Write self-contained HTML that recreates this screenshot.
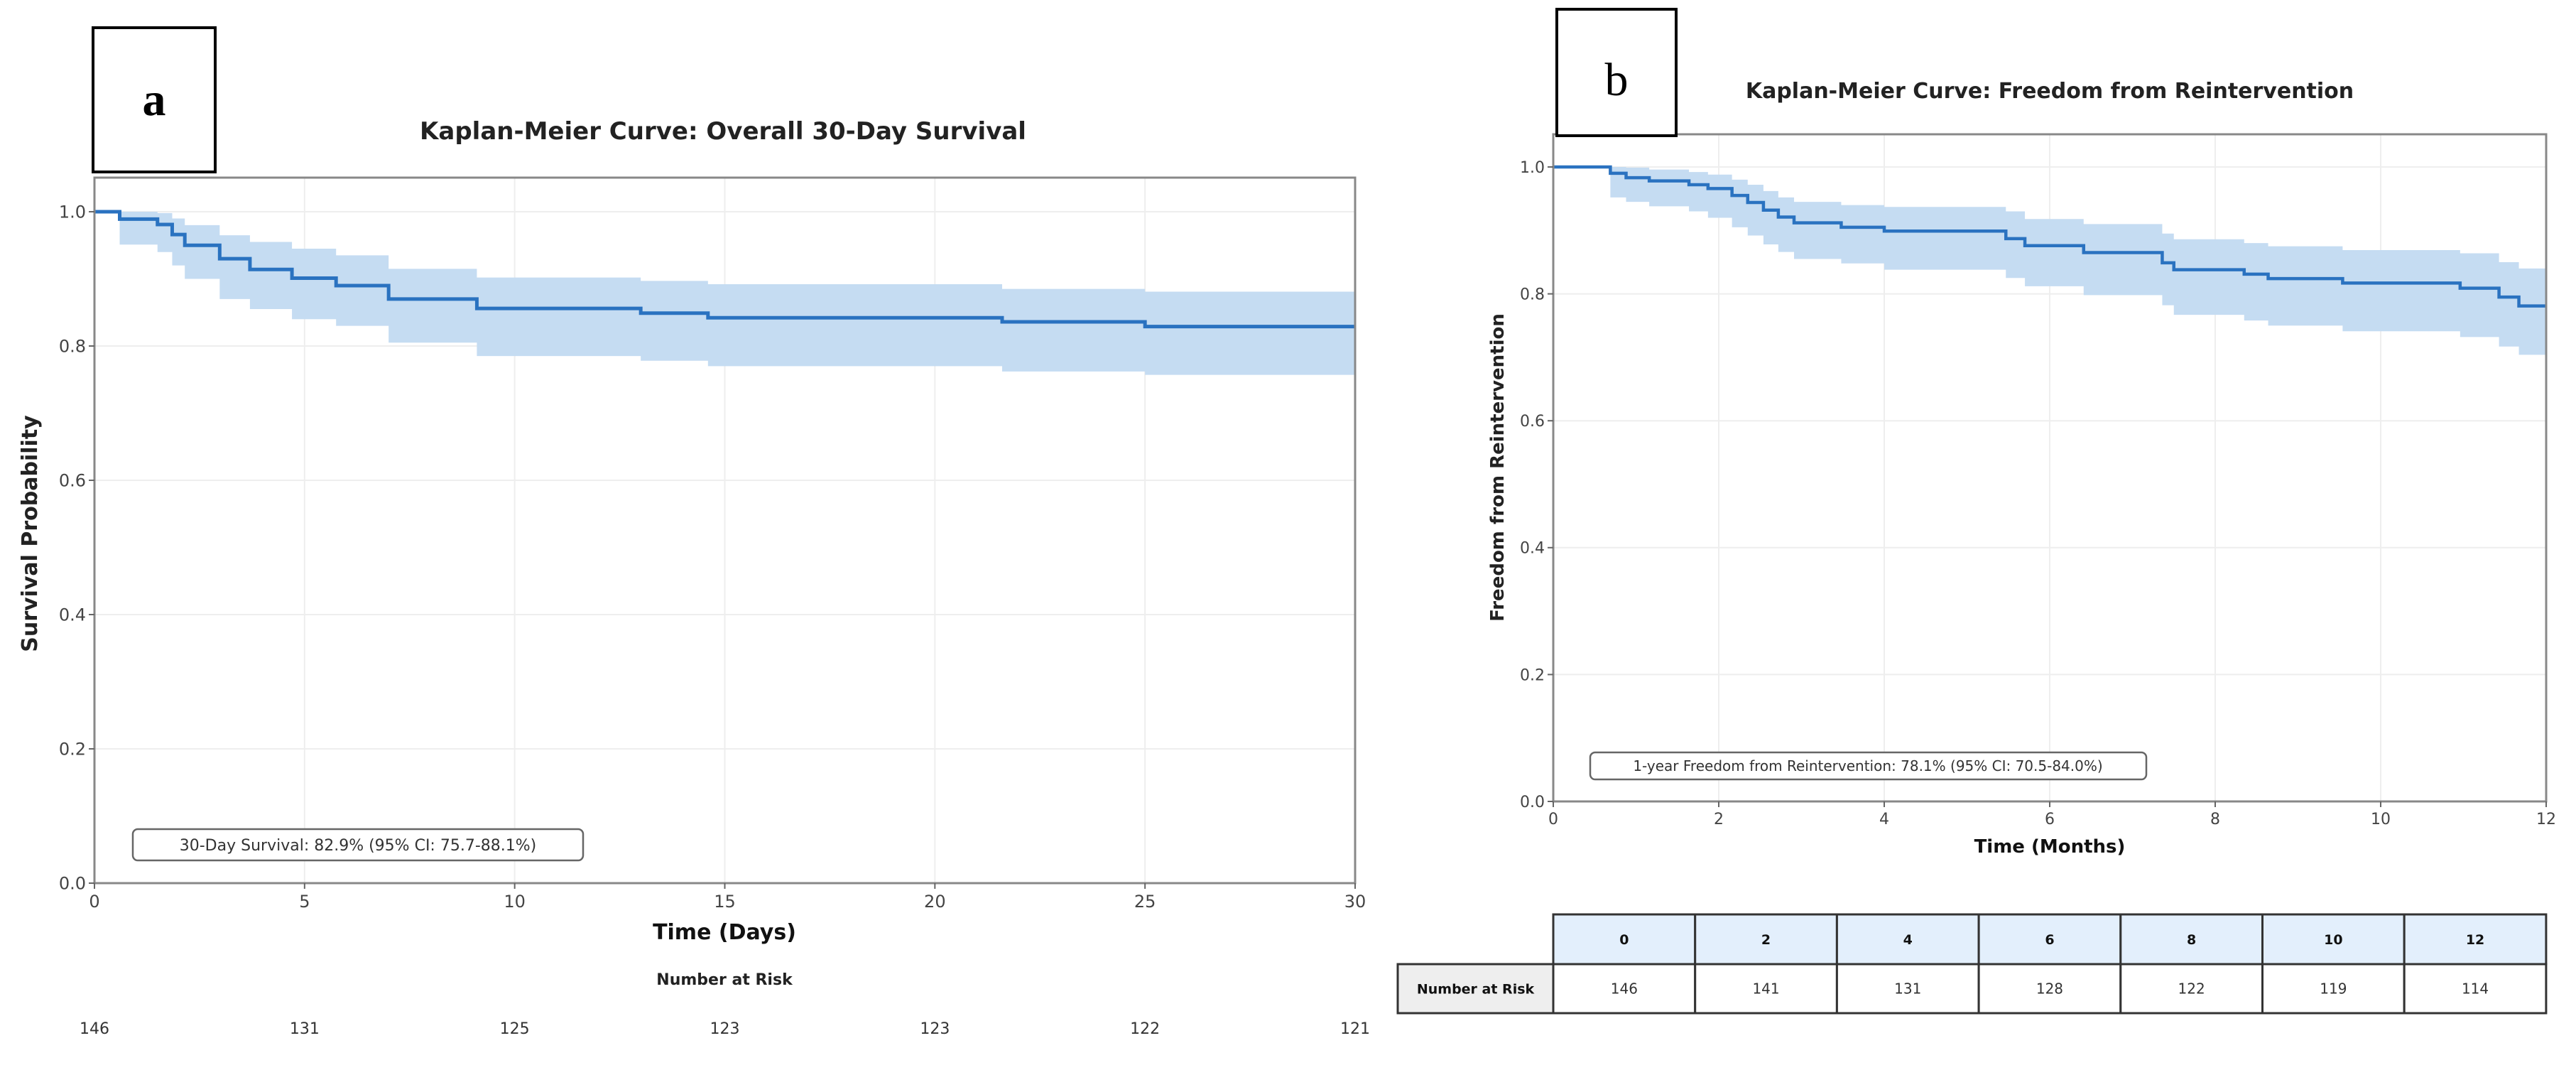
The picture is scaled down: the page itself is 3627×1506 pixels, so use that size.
<!DOCTYPE html>
<html><head><meta charset="utf-8">
<style>
html,body{margin:0;padding:0;background:#fff;}
svg{display:block;font-family:"DejaVu Sans","Liberation Sans",sans-serif;}
</style></head>
<body>
<svg id="fig" width="3627" height="1506" viewBox="0 0 3627 1506" xmlns="http://www.w3.org/2000/svg">
<rect width="3627" height="1506" fill="#fff"/>
<g>
<rect x="131" y="39" width="172" height="203" fill="#fff" stroke="#000" stroke-width="4"/>
<text x="217" y="162" text-anchor="middle" font-family="Liberation Serif,serif" font-weight="bold" font-size="66">a</text>
<text x="1018" y="196" text-anchor="middle" font-weight="bold" font-size="34" fill="#222">Kaplan-Meier Curve: Overall 30-Day Survival</text>
<g id="gridA"></g><g id="bandA"></g><g id="lineA"></g>
<rect x="133" y="250" width="1775" height="993" fill="none" stroke="#888" stroke-width="3"/>
<g id="ticksA"></g>
<text transform="translate(52,751) rotate(-90)" text-anchor="middle" font-weight="bold" font-size="30" fill="#222">Survival Probability</text>
<text x="1020" y="1322" text-anchor="middle" font-weight="bold" font-size="30" fill="#111">Time (Days)</text>
<rect x="187" y="1167" width="634" height="44" rx="7" fill="#fff" stroke="#666" stroke-width="2.5"/>
<text x="504" y="1197" text-anchor="middle" font-size="22" fill="#333">30-Day Survival: 82.9% (95% CI: 75.7-88.1%)</text>
<text x="1020" y="1386" text-anchor="middle" font-weight="bold" font-size="22" fill="#222">Number at Risk</text>
<g id="riskA"></g>
</g>
<g>
<g id="gridB"></g><g id="bandB"></g><g id="lineB"></g>
<rect x="2187" y="189" width="1398" height="939" fill="none" stroke="#888" stroke-width="3"/>
<rect x="2192" y="13" width="168" height="178" fill="#fff" stroke="#000" stroke-width="4"/>
<text x="2276" y="134" text-anchor="middle" font-family="Liberation Serif,serif" font-size="66">b</text>
<text x="2886" y="138" text-anchor="middle" font-weight="bold" font-size="30" fill="#222">Kaplan-Meier Curve: Freedom from Reintervention</text>
<g id="ticksB"></g>
<text transform="translate(2117,658) rotate(-90)" text-anchor="middle" font-weight="bold" font-size="26" fill="#222">Freedom from Reintervention</text>
<text x="2886" y="1200" text-anchor="middle" font-weight="bold" font-size="26" fill="#111">Time (Months)</text>
<rect x="2239" y="1059" width="783" height="38" rx="7" fill="#fff" stroke="#666" stroke-width="2.5"/>
<text x="2630" y="1085" text-anchor="middle" font-size="20" fill="#333">1-year Freedom from Reintervention: 78.1% (95% CI: 70.5-84.0%)</text>
<g id="tableB"></g>
</g>
</svg>
<script>
const aTimes = [0, 0.6, 1.5, 1.85, 2.15, 2.98, 3.7, 4.7, 5.75, 7.0, 9.1, 13.0, 14.6, 21.6, 25.0];
const aSurv  = [1.0, 0.989, 0.981, 0.966, 0.950, 0.930, 0.914, 0.901, 0.890, 0.870, 0.856, 0.849, 0.842, 0.836, 0.829];
const aLower = [1.0, 0.951, 0.940, 0.920, 0.900, 0.870, 0.855, 0.840, 0.830, 0.805, 0.785, 0.778, 0.770, 0.762, 0.757];
const aUpper = [1.0, 1.0, 0.998, 0.990, 0.980, 0.965, 0.955, 0.945, 0.935, 0.915, 0.902, 0.897, 0.892, 0.885, 0.881];
const aXTicks = [0, 5, 10, 15, 20, 25, 30];
const aRisk = [146, 131, 125, 123, 123, 122, 121];
const bTimes = [0, 0.69, 0.88, 1.16, 1.64, 1.87, 2.16, 2.35, 2.54, 2.72, 2.91, 3.48, 4.0, 5.47, 5.7, 6.41, 7.36, 7.5, 8.35, 8.64, 9.54, 10.96, 11.43, 11.67];
const bSurv  = [1.0, 0.99, 0.983, 0.978, 0.972, 0.966, 0.955, 0.944, 0.932, 0.921, 0.912, 0.905, 0.899, 0.887, 0.876, 0.865, 0.849, 0.838, 0.831, 0.824, 0.817, 0.809, 0.795, 0.781];
const bLower = [1.0, 0.952, 0.945, 0.938, 0.930, 0.920, 0.905, 0.892, 0.878, 0.866, 0.855, 0.848, 0.838, 0.825, 0.812, 0.798, 0.782, 0.767, 0.758, 0.750, 0.741, 0.732, 0.717, 0.704];
const bUpper = [1.0, 1.0, 0.999, 0.996, 0.992, 0.988, 0.980, 0.972, 0.962, 0.952, 0.945, 0.940, 0.937, 0.930, 0.918, 0.910, 0.895, 0.886, 0.880, 0.875, 0.869, 0.864, 0.850, 0.840];
const bXTicks = [0, 2, 4, 6, 8, 10, 12];
const bRisk = [146, 141, 131, 128, 122, 119, 114];
const yTicks = [0.0, 0.2, 0.4, 0.6, 0.8, 1.0];

const NS = "http://www.w3.org/2000/svg";
function mk(tag, attrs, parent){const e=document.createElementNS(NS,tag);for(const k in attrs)e.setAttribute(k,attrs[k]);parent.appendChild(e);return e;}

function drawPanel(cfg){
  const sx = t => cfg.x0 + t / cfg.tmax * (cfg.x1 - cfg.x0);
  const sy = v => cfg.y0 - v * (cfg.y0 - cfg.y1);
  const grid = document.getElementById('grid'+cfg.id);
  cfg.xt.forEach(t=>{const l=mk('line',{x1:sx(t),x2:sx(t),y1:cfg.top,y2:cfg.y0,stroke:'#eeeeee','stroke-width':2},grid);
    
    });
  yTicks.forEach(v=>{const l=mk('line',{x1:cfg.x0,x2:cfg.x1,y1:sy(v),y2:sy(v),stroke:'#eeeeee','stroke-width':2},grid);
    
    });
  const T=cfg.times, n=T.length;
  let up='', lo='';
  for(let i=0;i<n;i++){const xa=sx(T[i]), xb=sx(i<n-1?T[i+1]:cfg.tmax);
    up += (i===0?'M':'L')+xa+','+sy(cfg.upper[i])+' L'+xb+','+sy(cfg.upper[i])+' ';}
  for(let i=n-1;i>=0;i--){const xa=sx(T[i]), xb=sx(i<n-1?T[i+1]:cfg.tmax);
    lo += 'L'+xb+','+sy(cfg.lower[i])+' L'+xa+','+sy(cfg.lower[i])+' ';}
  const band=mk('path',{d:up+lo+'Z',fill:'#c5dcf2',stroke:'none'},document.getElementById('band'+cfg.id));
  
  
  let d='';
  for(let i=0;i<n;i++){const xa=sx(T[i]), xb=sx(i<n-1?T[i+1]:cfg.tmax);
    d += (i===0?'M':'L')+xa+','+sy(cfg.surv[i])+' L'+xb+','+sy(cfg.surv[i])+' ';}
  const ln=mk('path',{d:d,fill:'none',stroke:'#2a72c0','stroke-width':cfg.lw},document.getElementById('line'+cfg.id));
  
  
  const tk=document.getElementById('ticks'+cfg.id);
  cfg.xt.forEach(t=>{mk('line',{x1:sx(t),x2:sx(t),y1:cfg.y0,y2:cfg.y0+8,stroke:'#666','stroke-width':2},tk);
    const tx=mk('text',{x:sx(t),y:cfg.y0+cfg.fs+10,'text-anchor':'middle','font-size':cfg.fs,fill:'#444'},tk);
    tx.textContent=String(t);
    
    });
  yTicks.forEach(v=>{mk('line',{x1:cfg.x0-8,x2:cfg.x0,y1:sy(v),y2:sy(v),stroke:'#666','stroke-width':2},tk);
    const tx=mk('text',{x:cfg.x0-12,y:sy(v)+cfg.fs*0.36,'text-anchor':'end','font-size':cfg.fs,fill:'#444'},tk);
    tx.textContent=v.toFixed(1);
    
    });
  return sx;
}
const sxA = drawPanel({id:'A',x0:133,x1:1908,y0:1243,y1:298,top:250,tmax:30,xt:aXTicks,times:aTimes,surv:aSurv,lower:aLower,upper:aUpper,fs:24,lw:5});
const sxB = drawPanel({id:'B',x0:2187,x1:3585,y0:1128,y1:235,top:189,tmax:12,xt:bXTicks,times:bTimes,surv:bSurv,lower:bLower,upper:bUpper,fs:22,lw:4.5});

const rA=document.getElementById('riskA');
aXTicks.forEach((t,i)=>{const tx=mk('text',{x:sxA(t),y:1455,'text-anchor':'middle','font-size':22,fill:'#333'},rA);
  tx.textContent=String(aRisk[i]);
  
  });

const tb=document.getElementById('tableB');
const cw=199.7, tx0=2187, hy=1287, my=1357, by=1426;
mk('rect',{x:1968,y:my,width:tx0-1968,height:by-my,fill:'#eeeeee',stroke:'#333','stroke-width':3},tb);
const lab=mk('text',{x:(1968+tx0)/2,y:(my+by)/2+7,'text-anchor':'middle','font-size':19,'font-weight':'bold',fill:'#111'},tb);
lab.textContent='Number at Risk';


bXTicks.forEach((t,i)=>{const x=tx0+i*cw;
  mk('rect',{x:x,y:hy,width:cw,height:my-hy,fill:'#e3effc',stroke:'#333','stroke-width':3},tb);
  mk('rect',{x:x,y:my,width:cw,height:by-my,fill:'#fff',stroke:'#333','stroke-width':3},tb);
  const h=mk('text',{x:x+cw/2,y:(hy+my)/2+7,'text-anchor':'middle','font-size':19,'font-weight':'bold',fill:'#111'},tb);
  h.textContent=String(t);
  
  
  const v=mk('text',{x:x+cw/2,y:(my+by)/2+7,'text-anchor':'middle','font-size':20,fill:'#333'},tb);
  v.textContent=String(bRisk[i]);
  
  });
</script>
</body></html>
